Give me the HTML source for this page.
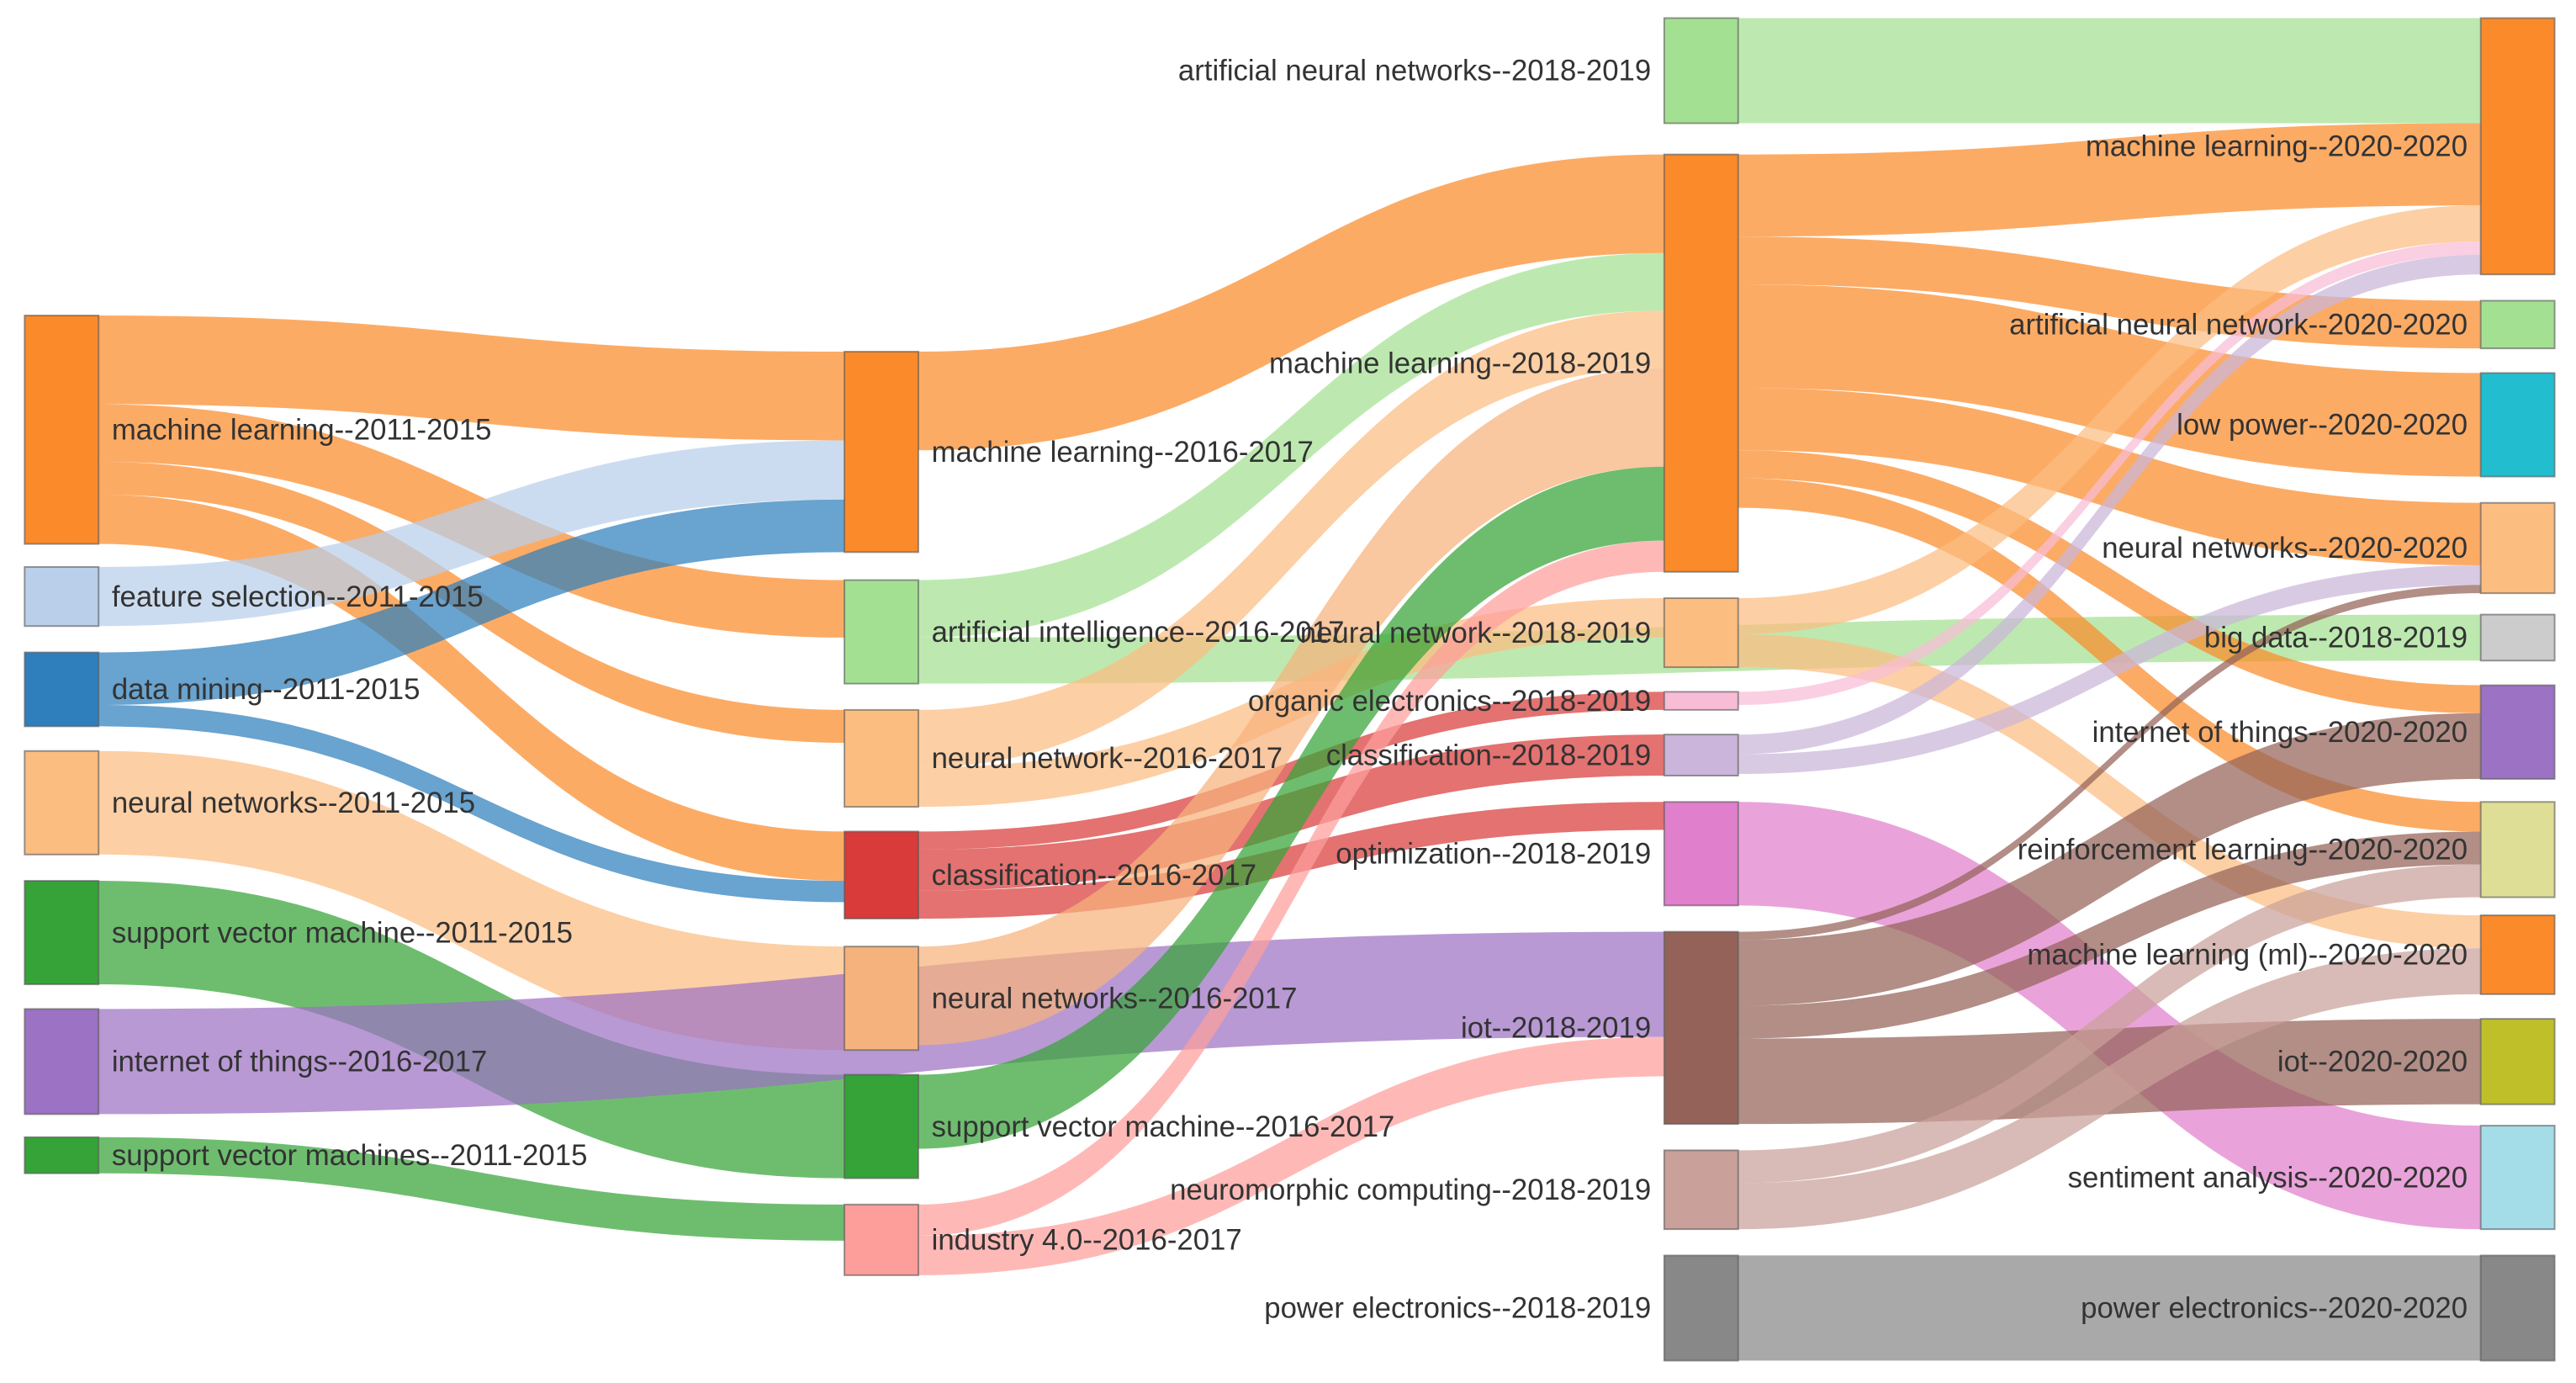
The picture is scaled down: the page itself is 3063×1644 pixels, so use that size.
<!DOCTYPE html>
<html><head><meta charset="utf-8"><style>
html,body{margin:0;padding:0;background:#fff;}
svg{display:block;}
text{font-family:"Liberation Sans",sans-serif;font-size:17.8px;fill:#333;}
</style></head><body>
<svg id="chart" width="3063" height="1644" viewBox="0 0 1568 841.6" preserveAspectRatio="none" xmlns="http://www.w3.org/2000/svg">
<g id="links"></g>
<g id="nodes"></g>
</svg>
<script>
const nodeNames = ["machine learning--2011-2015","feature selection--2011-2015","data mining--2011-2015","neural networks--2011-2015","support vector machine--2011-2015","internet of things--2016-2017","support vector machines--2011-2015",
"machine learning--2016-2017","artificial intelligence--2016-2017","neural network--2016-2017","classification--2016-2017","neural networks--2016-2017","support vector machine--2016-2017","industry 4.0--2016-2017",
"artificial neural networks--2018-2019","machine learning--2018-2019","neural network--2018-2019","organic electronics--2018-2019","classification--2018-2019","optimization--2018-2019","iot--2018-2019","neuromorphic computing--2018-2019","power electronics--2018-2019",
"machine learning--2020-2020","artificial neural network--2020-2020","low power--2020-2020","neural networks--2020-2020","big data--2018-2019","internet of things--2020-2020","reinforcement learning--2020-2020","machine learning (ml)--2020-2020","iot--2020-2020","sentiment analysis--2020-2020","power electronics--2020-2020"];
const nodeColumn = [0,0,0,0,0,0,0, 1,1,1,1,1,1,1, 2,2,2,2,2,2,2,2,2, 3,3,3,3,3,3,3,3,3,3,3];
const nodeTop = [192,345,397,457,536,614,692, 214,353,432,506,576,654,733, 11,94,364,421,447,488,567,700,764, 11,183,227,306,374,417,488,557,620,685,764];
const nodeColors = ["#fb8a2a","#b9cfea","#2f7fbd","#fcbd81","#36a338","#9c72c4","#36a338",
"#fb8a2a","#a4e092","#fcbd81","#d83b3a","#f6b27c","#36a338","#fd9e9b",
"#a4e092","#fb8a2a","#fcbd81","#f8bcd7","#cbb5da","#e07fcc","#946258","#c9a19a","#888888",
"#fb8a2a","#a4e092","#22becf","#fcbd81","#cccccc","#9c72c4","#dede96","#fb8a2a","#bfbf2a","#a4dde7","#888888"];
const linkSource = [0,0,0,0,1,2,2,3,4,5,6, 7,8,8,9,9,10,10,10,11,12,13,13, 14,15,15,15,15,15,15,16,16,17,18,18,19,20,20,20,20,21,21,22];
const linkTarget = [7,8,9,10,7,7,10,11,12,20,13, 15,15,27,15,16,17,18,19,15,15,15,20, 23,23,24,25,26,28,29,23,30,23,23,26,32,26,28,29,31,29,30,33];
const linkValues = [54,35,20,30,36,32,13,63,63,64,22, 60,35,28,35,24,11,25,17,60,45,19,24, 64,50,29,63,38,17,18,22,20,8,12,12,63,5,40,20,52,20,28,64];
const colX = [15,514,1013,1510];
const nodeW = 45;
const labelSide = ["right","right","left","left"];

const NS="http://www.w3.org/2000/svg";
const n = nodeNames.length;
const inSum = new Array(n).fill(0), outSum = new Array(n).fill(0);
for (let i=0;i<linkValues.length;i++){outSum[linkSource[i]]+=linkValues[i];inSum[linkTarget[i]]+=linkValues[i];}
const nodeH = nodeNames.map((_,i)=>Math.max(inSum[i],outSum[i],8));
function nx(i){return colX[nodeColumn[i]];}
function ny(i){return nodeTop[i];}
function hexA(c,a){const r=parseInt(c.substr(1,2),16),g=parseInt(c.substr(3,2),16),b=parseInt(c.substr(5,2),16);return `rgba(${r},${g},${b},${a})`;}
const order=[...linkValues.keys()];
const outOff=new Array(n).fill(0), inOff=new Array(n).fill(0);
const s0={},t0={};
[...order].sort((a,b)=>linkSource[a]-linkSource[b]||ny(linkTarget[a])-ny(linkTarget[b])).forEach(i=>{s0[i]=ny(linkSource[i])+outOff[linkSource[i]];outOff[linkSource[i]]+=linkValues[i];});
[...order].sort((a,b)=>linkTarget[a]-linkTarget[b]||ny(linkSource[a])-ny(linkSource[b])).forEach(i=>{t0[i]=ny(linkTarget[i])+inOff[linkTarget[i]];inOff[linkTarget[i]]+=linkValues[i];});
const gl=document.getElementById('links');
order.forEach(i=>{
  const s=linkSource[i],t=linkTarget[i],v=linkValues[i];
  const x0=nx(s)+nodeW,x1=nx(t),xm=(x0+x1)/2;
  const a=s0[i],b=t0[i];
  const p=document.createElementNS(NS,'path');
  p.setAttribute('d',`M${x0},${a}C${xm},${a} ${xm},${b} ${x1},${b}L${x1},${b+v}C${xm},${b+v} ${xm},${a+v} ${x0},${a+v}Z`);
  p.setAttribute('fill',hexA(nodeColors[s],0.72));
  
  
  gl.appendChild(p);
});
const gn=document.getElementById('nodes');
for(let i=0;i<n;i++){
  const r=document.createElementNS(NS,'rect');
  r.setAttribute('x',nx(i));r.setAttribute('y',ny(i));r.setAttribute('width',nodeW);r.setAttribute('height',nodeH[i]);
  r.setAttribute('fill',nodeColors[i]);r.setAttribute('stroke','#555');r.setAttribute('stroke-opacity','0.6');r.setAttribute('stroke-width','1');
  
  
  gn.appendChild(r);
}
for(let i=0;i<n;i++){
  const tx=document.createElementNS(NS,'text');
  const side=labelSide[nodeColumn[i]];
  tx.setAttribute('x',side==='right'?nx(i)+nodeW+8:nx(i)-8);
  tx.setAttribute('y',ny(i)+nodeH[i]/2+6);
  tx.setAttribute('text-anchor',side==='right'?'start':'end');
  tx.textContent=nodeNames[i];
  
  
  gn.appendChild(tx);
}
</script>
</body></html>
